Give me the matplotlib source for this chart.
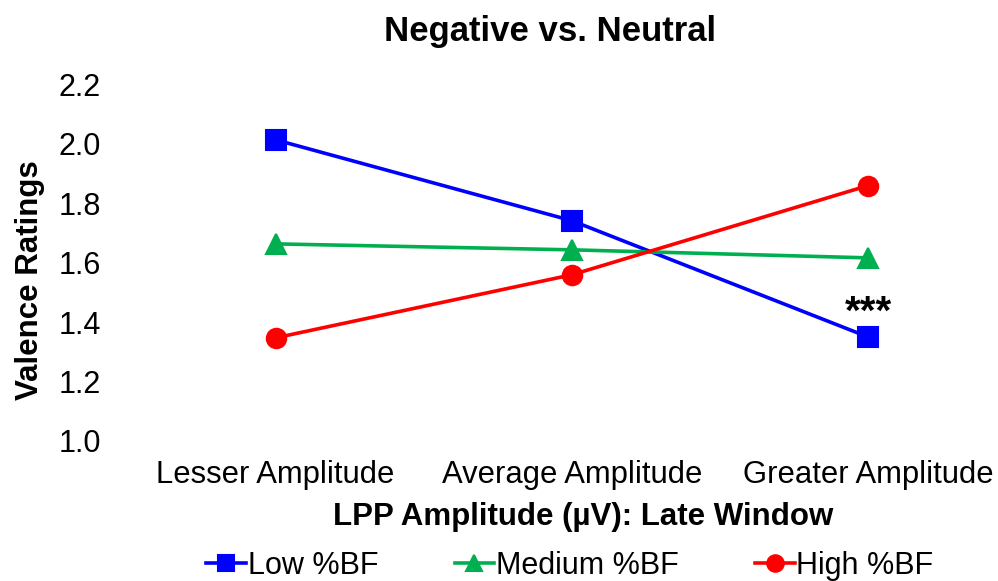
import matplotlib.pyplot as plt

plt.rcParams['font.family'] = ['Liberation Sans', 'DejaVu Sans']

categories = ['Lesser Amplitude', 'Average Amplitude', 'Greater Amplitude']
low_bf = [2.013, 1.741, 1.350]
medium_bf = [1.663, 1.643, 1.616]
high_bf = [1.347, 1.559, 1.859]
y_ticks = [1.0, 1.2, 1.4, 1.6, 1.8, 2.0, 2.2]

fig = plt.figure(figsize=(9.98, 5.81), dpi=100)
ax = fig.add_axes([0.140, 0.241, 0.852, 0.614])

x = list(range(len(categories)))
style = dict(lw=2.6, ms=14, markeredgewidth=1.5, solid_joinstyle='round')
ax.plot(x, low_bf, '-s', color='#0000FF', label='Low %BF', **style)
ax.plot(x, medium_bf, '-^', color='#00B050', label='Medium %BF', **style)
ax.plot(x, high_bf, '-o', color='#FF0000', label='High %BF', **style)
for ln in ax.lines:
    ln.set_markeredgecolor(ln.get_color())

# significance marker above the last blue point
ax.text(x[2], low_bf[2] + 0.018, '***', ha='center', va='bottom',
        fontsize=29, fontweight='bold')

ax.set_xlim(-0.459, 2.412)
ax.set_ylim(1.0, 2.2)
ax.set_xticks(x)
ax.set_xticklabels(categories, fontsize=22.3)
ax.set_yticks(y_ticks)
ax.set_yticklabels([f'{v:.1f}' for v in y_ticks], fontsize=22)
ax.tick_params(axis='both', length=0)
ax.tick_params(axis='y', pad=28)
ax.tick_params(axis='x', pad=14)
for s in ax.spines.values():
    s.set_visible(False)

fig.text(0.551, 0.945, 'Negative vs. Neutral', ha='center', va='center',
         fontsize=25, fontweight='bold')
fig.text(0.584, 0.110, 'LPP Amplitude (µV): Late Window', ha='center',
         va='center', fontsize=22.5, fontweight='bold')
fig.text(0.030, 0.518, 'Valence Ratings', ha='center', va='center',
         rotation=90, fontsize=22.5, fontweight='bold')

fig.legend(loc='center', bbox_to_anchor=(0.571, 0.026), ncol=3, frameon=False,
           fontsize=22, handlelength=1.3, handletextpad=0.05,
           columnspacing=2.5, markerscale=0.85, borderpad=0)

fig.savefig('out.png', dpi=100)
